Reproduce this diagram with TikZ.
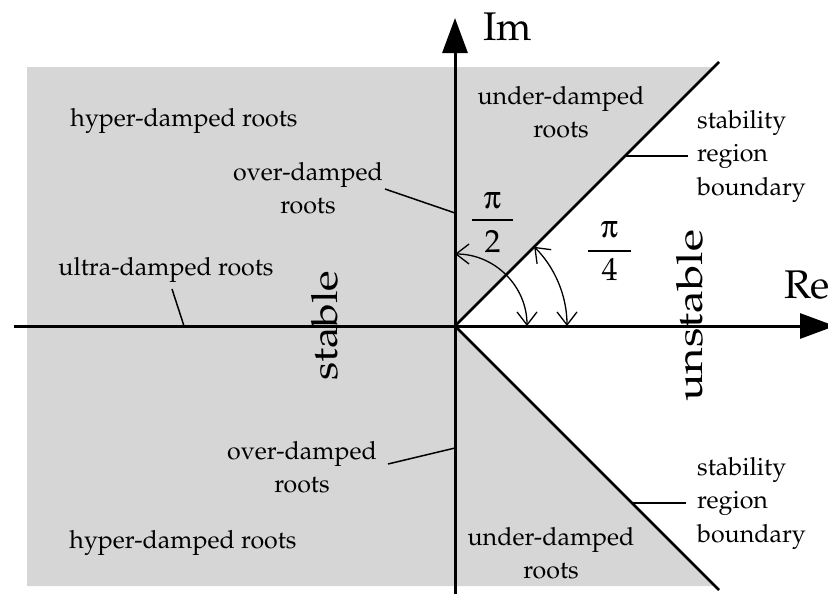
\documentclass[tikz,border=0pt]{standalone}
\usepackage[T1]{fontenc}
\usepackage{mathpazo}
\usepackage[Symbol]{upgreek}
\usepackage{graphicx}
\usetikzlibrary{arrows.meta}
\definecolor{regiongray}{RGB}{214,214,214}
\begin{document}
\begin{tikzpicture}[x=1pt,y=-1pt,
  lbl/.style={font=\fontsize{25}{33}\selectfont, inner sep=0pt, align=center},
  lblleft/.style={font=\fontsize{25}{33.5}\selectfont, inner sep=0pt, align=left},
  axlabel/.style={font=\fontsize{40}{44}\selectfont, inner sep=0pt},
  bigword/.style={font=\fontsize{36}{40}\selectfont, inner sep=0pt},
  fracfont/.style={font=\fontsize{32}{36}\selectfont, inner sep=0pt},
  axisline/.style={line width=3pt, -{Triangle[length=35pt,width=25pt]}},
  boundary/.style={line width=2.6pt},
  leader/.style={line width=1.5pt},
  fracbar/.style={line width=2pt},
  angarc/.style={line width=1.3pt, {Straight Barb[length=13pt,width=20pt]}-{Straight Barb[length=13pt,width=20pt]}}]
\useasboundingbox (0,0) rectangle (828,595);
\fill[regiongray] (27,67) -- (714,67) -- (455,326) -- (715,586) -- (27,586) -- cycle;

% axes and boundaries
\coordinate (O) at (455,326);
\coordinate (imtip) at (455,18);
\coordinate (imbot) at (455,594);
\coordinate (releft) at (14,326);
\coordinate (retip) at (835,326);
\coordinate (dup) at (719,62);
\coordinate (ddown) at (719,590);
\draw[axisline] (imbot) -- (imtip);
\draw[axisline] (releft) -- (retip);
\draw[boundary] (O) -- (dup);
\draw[boundary] (O) -- (ddown);

\node[axlabel, anchor=base west] (im) at (483,40) {Im};
\node[axlabel, anchor=base west] (re) at (784,298) {Re};

% region labels (multi-line nodes: base = last line)
\node[lbl, anchor=base] (hyp1) at (184,126) {hyper-damped roots};
\node[lbl, anchor=base] (hyp2) at (183,548) {hyper-damped roots};
\node[lbl, anchor=base] (ultra) at (166,275) {ultra-damped roots};
\node[lbl, anchor=base] (over1) at (308,213) {over-damped\\roots};
\node[lbl, anchor=base] (over2) at (302,492) {over-damped\\roots};
\node[lbl, anchor=base] (under1) at (561,137) {under-damped\\roots};
\node[lbl, anchor=base] (under2) at (551,578) {under-damped\\roots};
\node[lblleft, anchor=base west] (stab1) at (697,195) {stability\\region\\boundary};
\node[lblleft, anchor=base west] (stab2) at (697,542) {stability\\region\\boundary};

\node[bigword, rotate=90, anchor=base west] (stable) at (337,381) {\scalebox{1.19}[1]{stable}};
\node[bigword, rotate=90, anchor=base west] (unstable) at (702,402) {\scalebox{1.27}[1]{unstable}};

% leaders
\coordinate (ov1a) at (385,189); \coordinate (ov1b) at (455,213);
\coordinate (ov2a) at (388,464); \coordinate (ov2b) at (455,448);
\coordinate (ula) at (172,289); \coordinate (ulb) at (184,326);
\coordinate (st1a) at (625,156); \coordinate (st1b) at (688,156);
\coordinate (st2a) at (632,503); \coordinate (st2b) at (686,503);
\draw[leader] (ov1a) -- (ov1b);
\draw[leader] (ov2a) -- (ov2b);
\draw[leader] (ula) -- (ulb);
\draw[leader] (st1a) -- (st1b);
\draw[leader] (st2a) -- (st2b);

% angle arcs
\coordinate (a2s) at (455,254);
\coordinate (a4s) at (534.2,246.8);
\draw[angarc] (a2s) arc[start angle=-90, end angle=0, radius=72];
\draw[angarc] (a4s) arc[start angle=-45, end angle=0, radius=112];

% fractions
\node[fracfont] (pitwo) at (492.5,201) {$\uppi$};
\coordinate (b2a) at (472,220); \coordinate (b2b) at (513,220);
\draw[fracbar] (b2a) -- (b2b);
\node[fracfont] (two) at (492.5,241) {2};
\node[fracfont] (pifour) at (609.5,230) {$\uppi$};
\coordinate (b4a) at (588,251); \coordinate (b4b) at (631,251);
\draw[fracbar] (b4a) -- (b4b);
\node[fracfont] (four) at (609.5,269) {4};
\end{tikzpicture}
\end{document}
